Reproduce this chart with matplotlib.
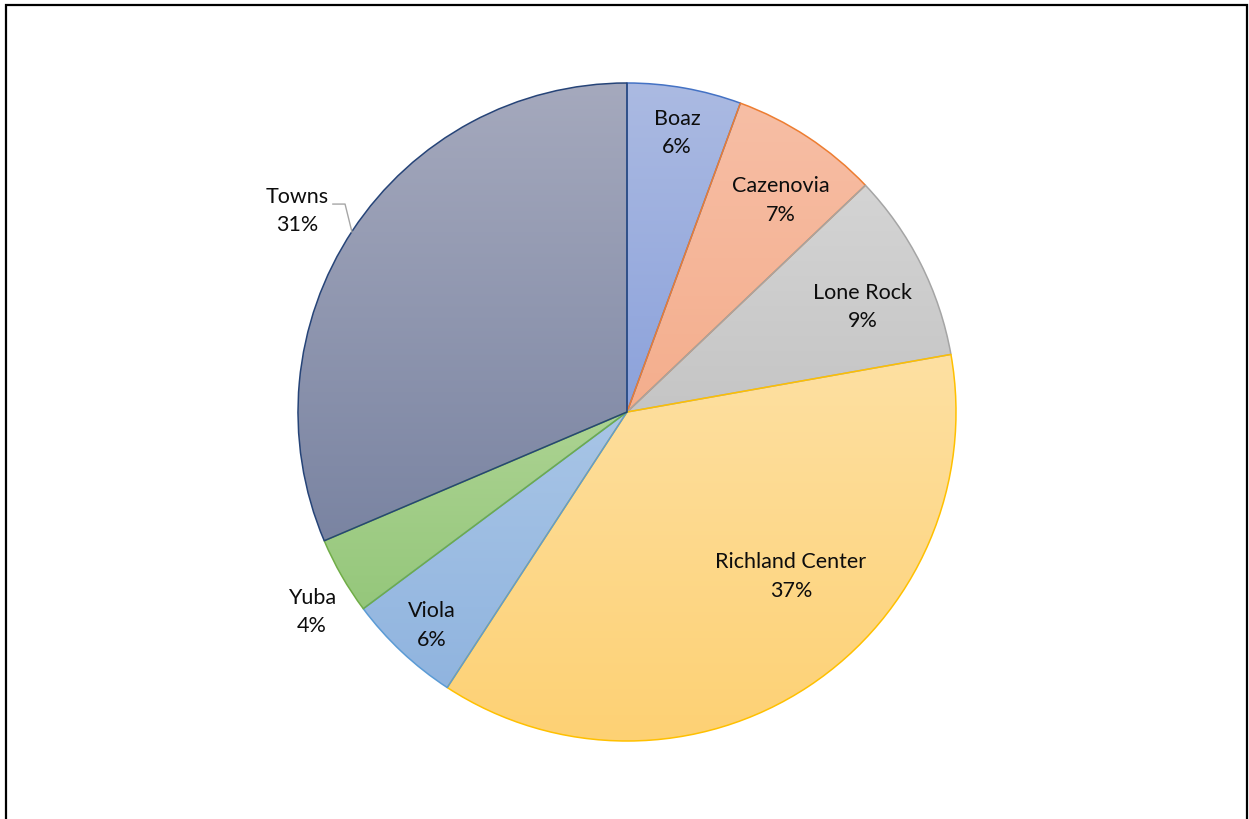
import numpy as np
import matplotlib
matplotlib.use("Agg")
import matplotlib.pyplot as plt
from matplotlib.colors import LinearSegmentedColormap
from matplotlib.patches import Rectangle
from matplotlib.lines import Line2D

# ---- data ----
categories = ["Boaz", "Cazenovia", "Lone Rock", "Richland Center", "Viola", "Yuba", "Towns"]
shares = [5.6, 7.3, 9.3, 37.0, 5.6, 3.8, 31.4]
pct_labels = ["6%", "7%", "9%", "37%", "6%", "4%", "31%"]

# ---- style ----
top_colors = ["#ABBAE2", "#F7BEA5", "#D4D4D4", "#FEE0A2", "#A8C5E6", "#ACD392", "#A5A9BD"]
bot_colors = ["#8CA2DB", "#F4AE8D", "#C5C5C5", "#FDD174", "#90B4DF", "#95C77B", "#7A84A2"]
edge_colors = ["#4472C4", "#ED7D31", "#A5A5A5", "#FFC000", "#5B9BD5", "#70AD47", "#264478"]
label_pos = [(0.152, 0.851), (0.468, 0.647), (0.717, 0.322), (0.498, -0.498),
             (-0.593, -0.647), (-0.957, -0.605), (-1.003, 0.614)]

W, H = 1249, 820
fig = plt.figure(figsize=(W / 100, H / 100), dpi=100)
fig.patch.set_facecolor("white")

cx, cy, R = 627, 413, 329
ax = fig.add_axes([(cx - R) / W, (H - cy - R) / H, 2 * R / W, 2 * R / H])
ax.axis("off")

wedges, _ = ax.pie(shares, startangle=90, counterclock=False, radius=1,
                   colors=bot_colors,
                   wedgeprops=dict(linewidth=1.1, joinstyle="round"))
ax.set_aspect("auto")

for i, w in enumerate(wedges):
    verts = w.get_path().vertices
    y0, y1 = verts[:, 1].min(), verts[:, 1].max()
    x0, x1 = verts[:, 0].min(), verts[:, 0].max()
    cmap = LinearSegmentedColormap.from_list("g%d" % i, [bot_colors[i], top_colors[i]])
    grad = np.linspace(0, 1, 256).reshape(-1, 1)
    im = ax.imshow(grad, cmap=cmap, extent=[x0, x1, y0, y1], origin="lower",
                   aspect="auto", zorder=1, interpolation="bilinear")
    im.set_clip_path(w)
    w.set_facecolor("none")
    w.set_edgecolor(edge_colors[i])
    w.set_zorder(2 + i * 0.01)

ax.set_xlim(-1, 1)
ax.set_ylim(-1, 1)

font = ["Lato", "DejaVu Sans"]
for i, (x, y) in enumerate(label_pos):
    ax.text(x, y, categories[i] + "\n" + pct_labels[i], ha="center", va="center",
            fontsize=15.5, family=font, color="#0D0D0D", linespacing=1.55, zorder=5)

# leader line for Towns
ax.add_line(Line2D([-0.894, -0.857, -0.836], [0.632, 0.632, 0.547],
                   color="#A6A6A6", lw=1.0, zorder=4, clip_on=False))

# chart area border
fig.patches.append(Rectangle((6 / W, -0.05), (1247 - 6) / W, 1.05 - 5.5 / H,
                             transform=fig.transFigure, fill=False,
                             edgecolor="black", linewidth=1.6, zorder=10))

fig.savefig("out.png", dpi=100, facecolor="white")
